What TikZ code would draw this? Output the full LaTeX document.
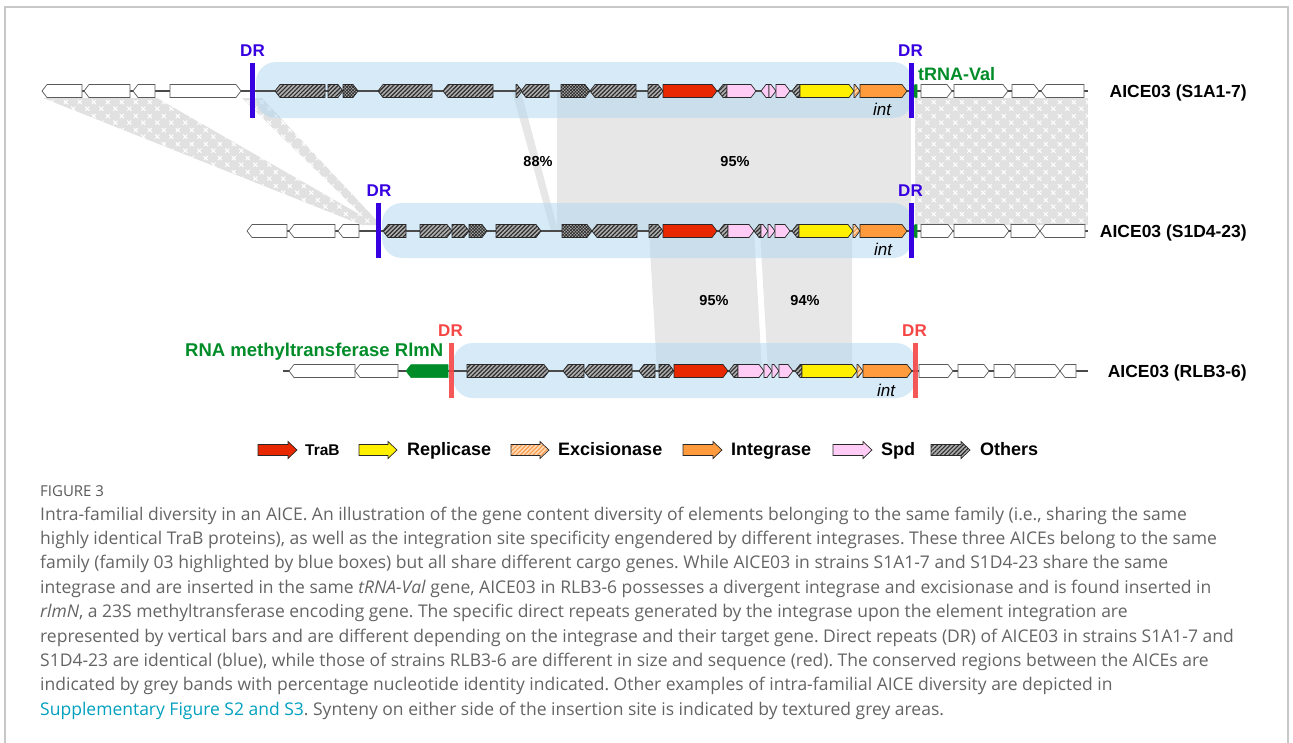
\documentclass[tikz,border=0pt]{standalone}
\usepackage{fontspec}
\setmainfont{Liberation Sans}
\newfontfamily\capfont{Open Sans}
\usetikzlibrary{patterns,patterns.meta}

\definecolor{framec}{RGB}{200,200,200}
\definecolor{genedge}{RGB}{40,40,40}
\definecolor{flankedge}{RGB}{90,90,90}
\definecolor{hatchbg}{RGB}{175,175,175}
\definecolor{hatchfg}{RGB}{45,45,45}
\definecolor{trabred}{RGB}{232,40,0}
\definecolor{repyellow}{RGB}{255,240,0}
\definecolor{excbg}{RGB}{255,218,180}
\definecolor{excfg}{RGB}{248,150,70}
\definecolor{intorange}{RGB}{255,155,60}
\definecolor{spdpink}{RGB}{255,204,245}
\definecolor{trnagreen}{RGB}{0,140,40}
\definecolor{drblue}{RGB}{55,0,225}
\definecolor{drred}{RGB}{245,70,70}
\definecolor{famblue}{RGB}{174,214,241}
\definecolor{bandgrey}{RGB}{231,231,231}
\definecolor{synbg}{RGB}{225,225,225}
\definecolor{bbgrey}{RGB}{75,75,75}
\definecolor{captgrey}{RGB}{100,100,100}
\definecolor{linkcyan}{RGB}{0,160,190}

% white cross marks on the synteny areas
\tikzdeclarepattern{
  name=synflower,
  type=uncolored,
  bottom left={(0pt,0pt)},
  top right={(14pt,14pt)},
  tile size={(14pt,14pt)},
  code={
    \draw[line width=1.1pt, line cap=round]
      (1.5pt,1.5pt) -- (5.5pt,5.5pt) (1.5pt,5.5pt) -- (5.5pt,1.5pt)
      (8.5pt,8.5pt) -- (12.5pt,12.5pt) (8.5pt,12.5pt) -- (12.5pt,8.5pt);
  }
}

% gene arrows: style, start x, end x, row y
\newcommand{\geneR}[4]{\path[#1] (#2,#4-6.5) -- ({max(#2,#3-5)},#4-6.5) -- (#3,#4) -- ({max(#2,#3-5)},#4+6.5) -- (#2,#4+6.5) -- cycle;}
\newcommand{\geneL}[4]{\path[#1] (#3,#4-6.5) -- ({min(#3,#2+5)},#4-6.5) -- (#2,#4) -- ({min(#3,#2+5)},#4+6.5) -- (#3,#4+6.5) -- cycle;}
% legend block arrow
\newcommand{\legarrow}[4]{\path[#1] (#2,#4-5.5) -- (#3-9,#4-5.5) -- (#3-9,#4-8.5) -- (#3,#4) -- (#3-9,#4+8.5) -- (#3-9,#4+5.5) -- (#2,#4+5.5) -- cycle;}

\tikzset{
  gene/.style={draw=genedge, line width=0.7pt, line join=miter},
  wg/.style={gene, draw=flankedge, fill=white},
  oth/.style={gene, preaction={fill=hatchbg}, pattern={Lines[angle=45,distance=3pt,line width=1.2pt]}, pattern color=hatchfg},
  den/.style={gene, preaction={fill=hatchbg}, pattern={Hatch[angle=45,distance=2.2pt,line width=0.7pt]}, pattern color=hatchfg},
  trab/.style={gene, fill=trabred},
  rep/.style={gene, fill=repyellow},
  exc/.style={gene, preaction={fill=excbg}, pattern={Lines[angle=45,distance=3pt,line width=1pt]}, pattern color=excfg},
  intg/.style={gene, fill=intorange},
  spd/.style={gene, fill=spdpink},
  trna/.style={fill=trnagreen, draw=trnagreen, line width=0.5pt},
  syn/.style={fill=synbg, postaction={pattern=synflower, pattern color=white}},
  band/.style={fill=bandgrey},
  fambox/.style={fill=famblue, fill opacity=0.5, rounded corners=20pt},
  bb/.style={draw=bbgrey, line width=1.3pt},
  drb/.style={fill=drblue},
  drr/.style={fill=drred, fill opacity=0.9},
  drlab/.style={font=\fontsize{17}{20}\selectfont\bfseries, anchor=base, inner sep=0pt},
  rowlab/.style={font=\fontsize{17.5}{20}\selectfont\bfseries, anchor=base east, inner sep=0pt},
  pct/.style={font=\fontsize{14.5}{17}\selectfont\bfseries, anchor=base, inner sep=0pt},
  intlab/.style={font=\fontsize{17}{20}\selectfont\itshape, anchor=base, inner sep=0pt},
  leglab/.style={font=\fontsize{18}{20}\selectfont\bfseries, anchor=base west, inner sep=0pt},
  capt/.style={font=\capfont\frenchspacing\fontsize{17.5}{20}\selectfont, text=captgrey, anchor=base west, inner sep=0pt},
}

\begin{document}
\begin{tikzpicture}[x=1pt,y=-1pt]
\useasboundingbox (0,0) rectangle (1293,742);

% outer frame
\draw[framec, line width=1.5pt] (5,760) -- (5,7) -- (1288,7) -- (1288,760);

% synteny of the flanking regions
\path[syn] (43,98) -- (157,98) -- (378,225) -- (362,225) -- cycle;
\path[syn] (242,98) -- (262,98) -- (381,225) -- (372,225) -- cycle;
\path[syn] (915,98) rectangle (1088,224.5);

% conserved regions
\path[band] (512,91) -- (521,91) -- (558,231) -- (551,231) -- cycle;
\path[band] (557,91) -- (911,91) -- (911,231) -- (557,231) -- cycle;
\path[band] (649,231) -- (754,231) -- (762,371) -- (657,371) -- cycle;
\path[band] (760,231) -- (852,231) -- (852,371) -- (768,371) -- cycle;

% family 03 boxes
\path[fambox] (256,62) rectangle (913,118);
\path[fambox] (382,203) rectangle (913,258);
\path[fambox] (453,343) rectangle (916,398);

% backbones
\draw[bb] (42,91) -- (1088,91);
\draw[bb] (247,231) -- (1088,231);
\draw[bb] (283,371) -- (1088,371);

% ---- row 1: S1A1-7
\geneL{wg}{42}{82}{91}
\geneL{wg}{84}{130}{91}
\geneL{wg}{133}{155}{91}
\geneR{wg}{170}{241}{91}
\geneL{oth}{275}{325}{91}
\geneR{oth}{328}{343}{91}
\geneR{den}{343}{358}{91}
\geneL{oth}{378}{432}{91}
\geneL{oth}{443}{493}{91}
\geneR{oth}{516}{522}{91}
\geneL{oth}{521}{549}{91}
\geneR{den}{561}{590}{91}
\geneL{oth}{590}{636}{91}
\geneR{oth}{648}{663}{91}
\geneR{trab}{663}{717}{91}
\geneL{oth}{718}{727}{91}
\geneR{spd}{727}{756}{91}
\geneL{spd}{761}{769}{91}
\geneR{spd}{769}{776}{91}
\geneR{spd}{776}{790}{91}
\geneL{oth}{792}{800}{91}
\geneR{rep}{800}{854}{91}
\geneR{exc}{854}{860}{91}
\geneR{intg}{860}{907}{91}
\geneL{trna}{910}{917}{91}
\geneR{wg}{921}{952}{91}
\geneR{wg}{954}{1008}{91}
\geneR{wg}{1012}{1039}{91}
\geneL{wg}{1041}{1084}{91}

% ---- row 2: S1D4-23
\geneL{wg}{247}{287}{231}
\geneL{wg}{289}{335}{231}
\geneL{wg}{338}{359}{231}
\geneL{oth}{383}{406}{231}
\geneR{oth}{420}{452}{231}
\geneR{oth}{452}{469}{231}
\geneR{den}{469}{487}{231}
\geneR{oth}{496}{541}{231}
\geneR{den}{562}{592}{231}
\geneL{oth}{592}{637}{231}
\geneR{oth}{649}{663}{231}
\geneR{trab}{663}{717}{231}
\geneL{oth}{719}{728}{231}
\geneR{spd}{728}{754}{231}
\geneL{oth}{754}{761}{231}
\geneR{spd}{761}{768}{231}
\geneR{spd}{768}{775}{231}
\geneR{spd}{775}{790}{231}
\geneL{oth}{792}{799}{231}
\geneR{rep}{799}{853}{231}
\geneR{exc}{853}{860}{231}
\geneR{intg}{860}{907}{231}
\geneL{trna}{910}{917}{231}
\geneR{wg}{921}{953}{231}
\geneR{wg}{954}{1009}{231}
\geneR{wg}{1011}{1040}{231}
\geneL{wg}{1040}{1085}{231}

% ---- row 3: RLB3-6
\geneL{wg}{289}{355}{371}
\geneL{wg}{355}{398}{371}
\geneL{trna}{406}{448}{371}
\geneR{oth}{467}{549}{371}
\geneL{oth}{563}{584}{371}
\geneL{oth}{584}{632}{371}
\geneL{oth}{639}{655}{371}
\geneR{oth}{659}{674}{371}
\geneR{trab}{674}{728}{371}
\geneL{oth}{729}{738}{371}
\geneR{spd}{738}{764}{371}
\geneR{spd}{764}{772}{371}
\geneR{spd}{772}{779}{371}
\geneR{spd}{779}{793}{371}
\geneL{oth}{795}{802}{371}
\geneR{rep}{802}{857}{371}
\geneR{exc}{857}{863}{371}
\geneR{intg}{863}{912}{371}
\geneR{wg}{919}{953}{371}
\geneR{wg}{958}{989}{371}
\geneR{wg}{994}{1015}{371}
\geneR{wg}{1015}{1060}{371}
\geneL{wg}{1060}{1076}{371}

% direct repeats
\path[drb] (250,63) rectangle (255,118);
\path[drb] (909,63) rectangle (914,118);
\path[drb] (375.5,203) rectangle (380.5,258);
\path[drb] (908.5,203) rectangle (913.5,258);
\path[drr] (449,343) rectangle (454,398);
\path[drr] (912.5,343) rectangle (917.5,398);

\node[drlab, text=drblue] (dr1a) at (252.5,56) {DR};
\node[drlab, text=drblue] (dr1b) at (910.5,56) {DR};
\node[drlab, text=drblue] (dr2a) at (379,196) {DR};
\node[drlab, text=drblue] (dr2b) at (910.5,196) {DR};
\node[drlab, text=drred] (dr3a) at (450.5,336.5) {DR};
\node[drlab, text=drred] (dr3b) at (914.5,336.5) {DR};

% gene names
\node[font=\fontsize{18}{20}\selectfont\bfseries, text=trnagreen, anchor=base west, inner sep=0pt] (trnaval) at (918,80.5) {tRNA-Val};
\node[font=\fontsize{18.5}{20}\selectfont\bfseries, text=trnagreen, anchor=base west, inner sep=0pt] (rlmn) at (185,356.6) {RNA methyltransferase RlmN};
\node[intlab] (int1) at (882,115) {int};
\node[intlab] (int2) at (883,255) {int};
\node[intlab] (int3) at (886,396.5) {int};

% identities
\node[pct] (p88) at (538,166) {88\%};
\node[pct] (p95a) at (735,166) {95\%};
\node[pct] (p95b) at (714,305.5) {95\%};
\node[pct] (p94) at (805,305.5) {94\%};

% element names
\node[rowlab] (row1) at (1247,97.3) {AICE03 (S1A1-7)};
\node[rowlab] (row2) at (1247,237.3) {AICE03 (S1D4-23)};
\node[rowlab] (row3) at (1247,377.3) {AICE03 (RLB3-6)};

% legend
\legarrow{trab}{258}{297}{450}
\legarrow{rep}{359}{397}{450}
\legarrow{exc}{511}{549}{450}
\legarrow{intg}{683}{722}{450}
\legarrow{spd}{833}{872}{450}
\legarrow{oth}{931}{970}{450}
\node[leglab, font=\fontsize{15.5}{18}\selectfont\bfseries] (lTraB) at (305,455.5) {TraB};
\node[leglab] (lRep) at (407,455.5) {Replicase};
\node[leglab] (lExc) at (558,455.5) {Excisionase};
\node[leglab] (lInt) at (731,455.5) {Integrase};
\node[leglab] (lSpd) at (881,455.5) {Spd};
\node[leglab] (lOth) at (980,455.5) {Others};

% caption
\node[capt, font=\capfont\fontsize{15}{17}\selectfont, text=black!65] (fig) at (40,496) {FIGURE 3};
\node[capt] (c1) at (40,520) {Intra-familial diversity in an AICE. An illustration of the gene content diversity of elements belonging to the same family (i.e., sharing the same};
\node[capt] (c2) at (40,544.4) {highly identical TraB proteins), as well as the integration site specificity engendered by different integrases. These three AICEs belong to the same};
\node[capt] (c3) at (40,568.8) {family (family 03 highlighted by blue boxes) but all share different cargo genes. While AICE03 in strains S1A1-7 and S1D4-23 share the same};
\node[capt] (c4) at (40,593.2) {integrase and are inserted in the same \textit{tRNA-Val} gene, AICE03 in RLB3-6 possesses a divergent integrase and excisionase and is found inserted in};
\node[capt] (c5) at (40,617.6) {\textit{rlmN}, a 23S methyltransferase encoding gene. The specific direct repeats generated by the integrase upon the element integration are};
\node[capt] (c6) at (40,642) {represented by vertical bars and are different depending on the integrase and their target gene. Direct repeats (DR) of AICE03 in strains S1A1-7 and};
\node[capt] (c7) at (40,666.4) {S1D4-23 are identical (blue), while those of strains RLB3-6 are different in size and sequence (red). The conserved regions between the AICEs are};
\node[capt] (c8) at (40,690.8) {indicated by grey bands with percentage nucleotide identity indicated. Other examples of intra-familial AICE diversity are depicted in};
\node[capt] (c9) at (40,715.2) {\textcolor{linkcyan}{Supplementary Figure S2 and S3}. Synteny on either side of the insertion site is indicated by textured grey areas.};
\end{tikzpicture}
\end{document}
